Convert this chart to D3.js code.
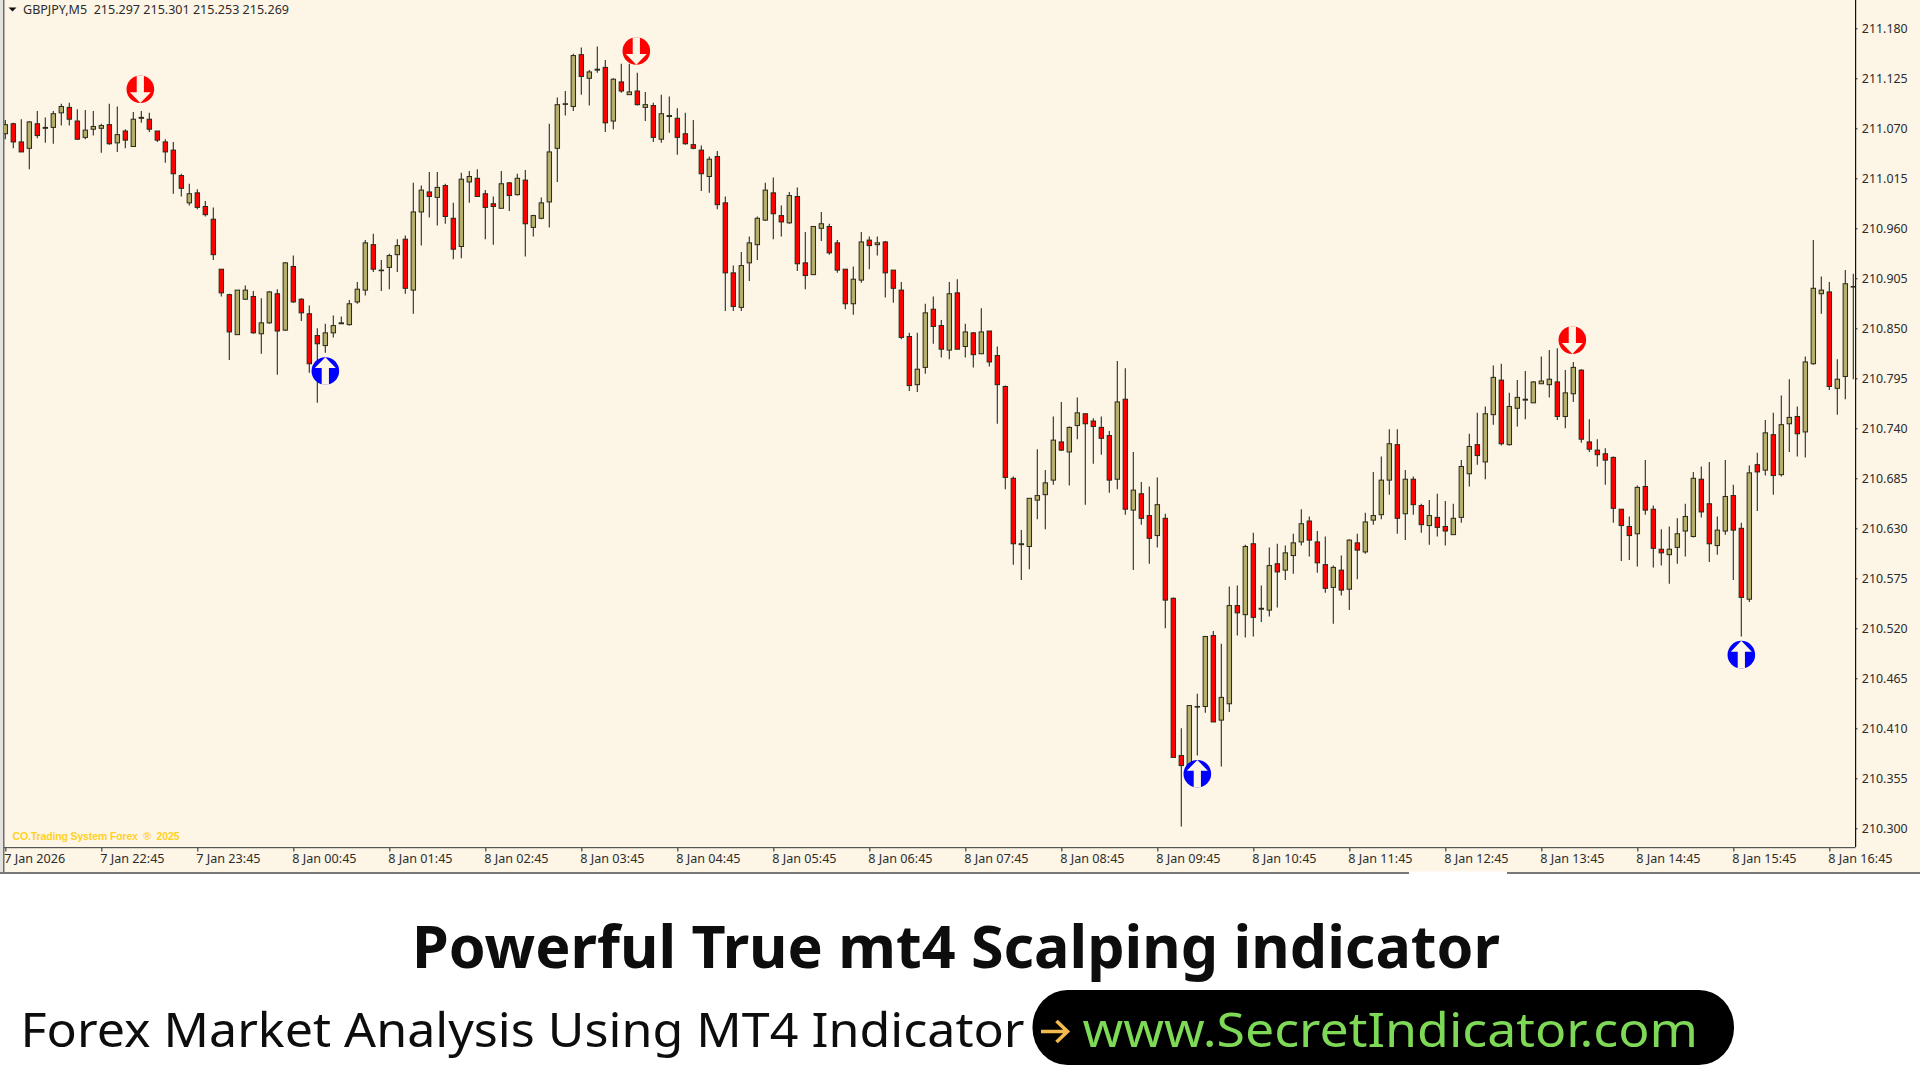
<!DOCTYPE html>
<html><head><meta charset="utf-8"><title>GBPJPY M5</title>
<script src="https://cdn.jsdelivr.net/npm/d3@7/dist/d3.min.js"></script>
<style>html,body{margin:0;padding:0;background:#fff;overflow:hidden}svg{display:block}</style>
</head><body><div id="chart"></div>
<script>
const highs=[211.079,211.076,211.080,211.078,211.089,211.082,211.089,211.097,211.098,211.091,
211.090,211.089,211.075,211.097,211.094,211.069,211.088,211.089,211.087,211.067,
211.058,211.055,211.020,211.009,211.003,210.990,210.983,210.915,210.888,210.892,
210.897,210.891,210.883,210.891,210.893,210.923,210.930,210.883,210.875,210.850,
210.855,210.864,210.863,210.881,210.901,210.947,210.954,210.925,210.932,210.948,
210.952,211.010,211.007,211.022,211.022,211.009,210.988,211.021,211.023,211.025,
211.002,210.995,211.023,211.011,211.020,211.024,210.975,210.994,211.075,211.104,
211.111,211.152,211.159,211.134,211.160,211.145,211.125,211.141,211.141,211.131,
211.110,211.098,211.107,211.105,211.092,211.087,211.079,211.051,211.039,211.045,
210.995,210.919,210.934,210.951,210.973,211.010,211.016,210.985,211.000,211.005,
210.956,210.962,210.978,210.965,210.947,210.915,210.918,210.956,210.951,210.951,
210.946,210.914,210.901,210.845,210.845,210.877,210.885,210.859,210.901,210.904,
210.855,210.846,210.872,210.847,210.830,210.787,210.687,210.628,210.663,210.717,
210.694,210.753,210.769,210.742,210.774,210.756,210.751,210.753,210.737,210.814,
210.806,210.714,210.681,210.676,210.686,210.646,210.554,210.410,210.435,210.448,
210.511,210.517,210.503,210.566,210.567,210.612,210.625,210.567,210.609,210.613,
210.611,210.624,210.651,210.643,210.627,210.621,210.589,210.600,210.618,210.624,
210.647,210.692,210.709,210.739,210.739,210.694,210.687,210.657,210.661,210.668,
210.660,210.657,210.705,210.734,210.757,210.764,210.809,210.811,210.779,210.793,
210.803,210.792,210.819,210.826,210.828,210.804,210.813,210.805,210.750,210.728,
210.718,210.709,210.651,210.643,210.677,210.705,210.655,210.629,210.632,210.641,
210.657,210.692,210.698,210.703,210.643,210.705,210.678,210.636,210.699,210.713,
210.749,210.757,210.776,210.794,210.764,210.819,210.947,210.907,210.901,210.816,
210.914,210.910];
const opens=[211.064,211.075,211.055,211.048,211.075,211.070,211.071,211.087,211.093,211.078,
211.060,211.069,211.070,211.074,211.054,211.067,211.050,211.081,211.080,211.067,
211.055,211.046,211.018,210.988,210.999,210.984,210.970,210.915,210.887,210.843,
210.882,210.885,210.844,210.856,210.888,210.848,210.918,210.882,210.866,210.842,
210.831,210.845,210.855,210.854,210.879,210.892,210.942,210.914,210.917,210.931,
210.948,210.892,210.978,211.000,210.994,211.007,210.971,210.940,211.011,211.015,
210.998,210.987,210.982,211.010,210.997,211.013,210.961,210.971,210.989,211.048,
211.097,211.094,211.151,211.125,211.134,211.137,211.078,211.121,211.107,211.111,
211.093,211.095,211.058,211.083,211.081,211.064,211.052,211.046,211.017,211.039,
210.988,210.911,210.873,210.922,210.942,210.969,210.999,210.974,210.966,210.995,
210.922,210.909,210.960,210.962,210.944,210.915,210.877,210.903,210.947,210.942,
210.945,210.914,210.892,210.841,210.788,210.807,210.871,210.853,210.826,210.889,
210.830,210.845,210.822,210.847,210.820,210.786,210.685,210.612,210.610,210.661,
210.667,210.683,210.725,210.714,210.743,210.756,210.748,210.741,210.732,210.684,
210.772,210.650,210.668,210.644,210.622,210.641,210.553,210.380,210.360,210.434,
210.434,210.512,210.419,210.437,210.545,210.535,210.613,210.541,210.540,210.591,
210.584,210.600,210.615,210.638,210.615,210.590,210.565,210.584,210.563,210.614,
210.604,210.639,210.645,210.683,210.722,210.646,210.684,210.655,210.633,210.642,
210.632,210.623,210.642,210.690,210.722,210.703,210.755,210.793,210.722,210.762,
210.771,210.768,210.789,210.788,210.791,210.753,210.778,210.804,210.725,210.716,
210.712,210.708,210.651,210.632,210.624,210.676,210.651,210.607,210.601,210.609,
210.627,210.621,210.684,210.657,210.611,210.627,210.666,210.630,210.552,210.700,
210.694,210.733,210.689,210.745,210.753,210.736,210.811,210.888,210.890,210.784,
210.797,210.896];
const closes=[211.074,211.055,211.044,211.077,211.062,211.071,211.086,211.094,211.080,211.058,
211.068,211.072,211.073,211.053,211.063,211.057,211.080,211.082,211.069,211.057,
211.044,211.020,211.004,210.998,210.983,210.975,210.931,210.889,210.846,210.892,
210.892,210.845,210.856,210.890,210.847,210.922,210.879,210.867,210.811,210.833,
210.845,210.853,210.856,210.877,210.893,210.944,210.915,210.914,210.930,210.941,
210.894,210.978,211.002,210.995,211.005,210.973,210.937,211.014,211.017,210.995,
210.983,210.984,211.009,210.996,211.015,210.965,210.974,210.988,211.044,211.096,
211.097,211.150,211.127,211.132,211.135,211.076,211.124,211.111,211.110,211.096,
211.096,211.060,211.086,211.084,211.060,211.053,211.048,211.020,211.036,210.986,
210.911,210.874,210.919,210.944,210.971,211.002,210.976,210.967,210.996,210.921,
210.908,210.962,210.965,210.933,210.914,210.877,210.904,210.945,210.941,210.944,
210.911,210.894,210.840,210.787,210.805,210.867,210.852,210.827,210.888,210.827,
210.846,210.821,210.846,210.813,210.788,210.686,210.613,210.613,210.663,210.666,
210.680,210.727,210.716,210.741,210.757,210.745,210.742,210.729,210.683,210.769,
210.651,210.672,210.641,210.619,210.656,210.551,210.378,210.369,210.435,210.434,
210.511,210.417,210.444,210.545,210.537,210.610,210.532,210.542,210.589,210.582,
210.603,210.614,210.635,210.617,210.592,210.564,210.587,210.562,210.617,210.606,
210.637,210.644,210.683,210.723,210.641,210.684,210.656,210.634,210.644,210.631,
210.627,210.641,210.698,210.720,210.710,210.756,210.796,210.723,210.764,210.774,
210.772,210.791,210.792,210.794,210.753,210.779,210.807,210.728,210.717,210.711,
210.705,210.652,210.633,210.622,210.675,210.650,210.608,210.603,210.607,210.624,
210.643,210.685,210.648,210.613,210.628,210.665,210.628,210.554,210.691,210.692,
210.735,210.688,210.744,210.752,210.734,210.813,210.894,210.892,210.786,210.794,
210.899,210.896];
const lows=[211.058,211.048,211.044,211.025,211.059,211.054,211.053,211.073,211.073,211.057,
211.058,211.062,211.043,211.052,211.044,211.048,211.050,211.076,211.066,211.055,
211.032,210.998,210.995,210.985,210.981,210.973,210.925,210.885,210.815,210.843,
210.881,210.844,210.822,210.855,210.799,210.847,210.878,210.858,210.801,210.768,
210.823,210.840,210.855,210.853,210.877,210.886,210.912,210.891,210.893,210.912,
210.888,210.866,210.941,210.972,210.963,210.965,210.926,210.927,210.988,210.995,
210.948,210.942,210.982,210.979,210.996,210.929,210.951,210.970,210.961,211.011,
211.084,211.089,211.107,211.095,211.131,211.066,211.069,211.109,211.107,211.095,
211.078,211.055,211.054,211.065,211.041,211.052,211.047,211.001,210.999,210.981,
210.869,210.869,210.869,210.902,210.925,210.968,210.948,210.951,210.965,210.913,
210.893,210.909,210.946,210.931,210.911,210.871,210.865,210.900,210.915,210.930,
210.884,210.878,210.838,210.781,210.780,210.800,210.833,210.818,210.816,210.827,
210.818,210.807,210.822,210.808,210.745,210.673,210.590,210.573,210.585,210.640,
210.629,210.678,210.715,210.677,210.728,210.656,210.701,210.711,210.669,210.673,
210.645,210.584,210.634,210.591,210.609,210.520,210.378,210.302,210.357,210.380,
210.427,210.417,210.368,210.428,210.512,210.510,210.511,210.527,210.533,210.543,
210.573,210.580,210.611,210.599,210.581,210.559,210.525,210.556,210.540,210.574,
210.602,210.634,210.640,210.667,210.624,210.617,210.645,210.625,210.612,210.621,
210.611,210.623,210.636,210.676,210.700,210.684,210.744,210.721,210.721,210.742,
210.750,210.768,210.789,210.774,210.749,210.740,210.769,210.724,210.714,210.698,
210.678,210.636,210.594,210.595,210.588,210.645,210.587,210.589,210.569,210.591,
210.599,210.620,210.642,210.593,210.601,210.623,210.573,210.511,210.549,210.649,
210.688,210.667,210.687,210.714,210.709,210.708,210.810,210.866,210.782,210.755,
210.772,210.794];
const priceTicks=["211.180","211.125","211.070","211.015","210.960","210.905","210.850","210.795","210.740","210.685","210.630","210.575","210.520","210.465","210.410","210.355","210.300"];
const timeTickCandles=[0,12,24,36,48,60,72,84,96,108,120,132,144,156,168,180,192,204,216,228];
const timeLabels=["7 Jan 2026","7 Jan 22:45","7 Jan 23:45","8 Jan 00:45","8 Jan 01:45","8 Jan 02:45","8 Jan 03:45","8 Jan 04:45","8 Jan 05:45","8 Jan 06:45","8 Jan 07:45","8 Jan 08:45","8 Jan 09:45","8 Jan 10:45","8 Jan 11:45","8 Jan 12:45","8 Jan 13:45","8 Jan 14:45","8 Jan 15:45","8 Jan 16:45"];
const signalCandles=[17,79,40,149,196,217];
const signalPrices=[211.113,211.155,210.803,210.360,210.837,210.491];
const signalDirections=["sell","sell","buy","buy","sell","buy"];

const W=1920,H=1080;
const svg=d3.select("#chart").append("svg").attr("width",W).attr("height",H).attr("viewBox",[0,0,W,H]);
const x=d3.scaleLinear().domain([0,231]).range([5.33,1853.33]);
const y=d3.scaleLinear().domain([210.3,211.18]).range([828.3,28.3]);
const BG="#FDF5E6",UP="#B5AF6B",DOWN="#FF0000",INK="#2c2c2c";
const uiFont="'Noto Sans',Tahoma,sans-serif";

svg.append("rect").attr("width",W).attr("height",873).attr("fill",BG);
// window frame
svg.append("rect").attr("x",0).attr("y",0).attr("width",3).attr("height",873).attr("fill","#e4e2dc");
svg.append("rect").attr("x",3).attr("y",0).attr("width",1.5).attr("height",873).attr("fill","#6e6e6e");
svg.append("rect").attr("x",0).attr("y",872).attr("width",W).attr("height",2).attr("fill","#777");
svg.append("rect").attr("x",1409).attr("y",871.5).attr("width",98).attr("height",4).attr("fill","#fff");

const defs=svg.append("defs");
defs.append("clipPath").attr("id","plot").append("rect").attr("x",4).attr("y",0).attr("width",1851).attr("height",847);
const plot=svg.append("g").attr("clip-path","url(#plot)");
const candles=d3.range(highs.length);
plot.append("g").selectAll("line").data(candles).join("line")
  .attr("x1",i=>x(i)).attr("x2",i=>x(i)).attr("y1",i=>y(highs[i])).attr("y2",i=>y(lows[i]))
  .attr("stroke","#3a3a3a").attr("stroke-width",1.2);
plot.append("g").selectAll("rect").data(candles).join("rect")
  .attr("x",i=>x(i)-2.2).attr("width",4.4)
  .attr("y",i=>y(Math.max(opens[i],closes[i])))
  .attr("height",i=>Math.max(0.6,Math.abs(y(opens[i])-y(closes[i]))))
  .attr("fill",i=>closes[i]<opens[i]?DOWN:UP)
  .attr("stroke","#2a2a1a").attr("stroke-width",1);

// signal markers
const R=13.8;
const sellArrow=`M-3.6,${-R} L3.6,${-R} L3.6,3 L10.5,3 L0,${R} L-10.5,3 L-3.6,3 Z`;
const marks=svg.append("g").selectAll("g").data(d3.range(signalCandles.length)).join("g")
  .attr("transform",i=>`translate(${x(signalCandles[i])+(signalDirections[i]==="sell"?-1:0)},${y(signalPrices[i])})`);
marks.append("circle").attr("r",R).attr("fill",i=>signalDirections[i]==="sell"?"#FF0000":"#0000FF");
marks.append("path").attr("d",sellArrow).attr("fill",BG)
  .attr("transform",i=>signalDirections[i]==="sell"?null:"scale(1,-1)");

// axes
const yAxis=d3.axisRight(y).tickValues(priceTicks.map(Number)).tickFormat(d3.format(".3f")).tickSize(2).tickPadding(4);
const yG=svg.append("g").attr("transform","translate(1855.5,0)").call(yAxis);
yG.select(".domain").remove();
yG.selectAll("line").attr("stroke","#222");
yG.selectAll("text").attr("font-family",uiFont).attr("font-size",12.4).attr("fill",INK).attr("dy","0.32em").attr("x",6.3);
svg.append("rect").attr("x",1855).attr("y",0).attr("width",1.2).attr("height",847).attr("fill","#111");

const xAxis=d3.axisBottom(x).tickValues(timeTickCandles).tickFormat((d,i)=>timeLabels[i]).tickSize(4).tickPadding(2);
const xG=svg.append("g").attr("transform","translate(0,847.5)").call(xAxis);
xG.select(".domain").remove();
xG.selectAll("line").attr("stroke","#222");
xG.selectAll("text").attr("font-family",uiFont).attr("font-size",12.6).attr("fill",INK).attr("text-anchor","start").attr("x",-1.5).attr("dy",null).attr("y",15.5);
svg.append("rect").attr("x",4).attr("y",847).attr("width",1851.5).attr("height",1.2).attr("fill","#555");

// chart header
svg.append("path").attr("d","M8.5,7.5 L16.5,7.5 L12.5,11.5 Z").attr("fill","#111");
svg.append("text").attr("x",23).attr("y",13.5).attr("font-family",uiFont).attr("font-size",12.2).attr("fill",INK)
  .style("white-space","pre").text("GBPJPY,M5  215.297 215.301 215.253 215.269").attr("textLength",266).attr("lengthAdjust","spacingAndGlyphs");
svg.append("text").attr("x",12.5).attr("y",839.5).attr("font-family","'Liberation Sans',Arial,sans-serif").attr("font-size",10.5).attr("font-weight",700).attr("fill","#FFD21F")
  .style("white-space","pre").text("CO.Trading System Forex  ®  2025").attr("textLength",167).attr("lengthAdjust","spacing");

// headings
const headFont="'Noto Sans',sans-serif";
svg.append("text").attr("x",412).attr("y",967.7).attr("font-family",headFont).attr("font-weight",700).attr("font-size",60).attr("fill","#0d0d0d")
  .text("Powerful True mt4 Scalping indicator").attr("textLength",1088).attr("lengthAdjust","spacingAndGlyphs");
svg.append("text").attr("x",20.6).attr("y",1047.3).attr("font-family",headFont).attr("font-size",48).attr("fill","#0d0d0d")
  .text("Forex Market Analysis Using MT4 Indicator").attr("textLength",1004).attr("lengthAdjust","spacingAndGlyphs");
svg.append("rect").attr("x",1032.5).attr("y",990).attr("width",701.5).attr("height",75).attr("rx",35).attr("ry",37).attr("fill","#000");
svg.append("path").attr("d","M1041,1031.5 H1067 M1056.5,1021 L1067.5,1031.5 L1056.5,1042").attr("fill","none").attr("stroke","#F4BC50").attr("stroke-width",3.6);
svg.append("text").attr("x",1082.5).attr("y",1047.3).attr("font-family",headFont).attr("font-size",48).attr("fill","#7ED957")
  .text("www.SecretIndicator.com").attr("textLength",615.5).attr("lengthAdjust","spacingAndGlyphs");
</script></body></html>
